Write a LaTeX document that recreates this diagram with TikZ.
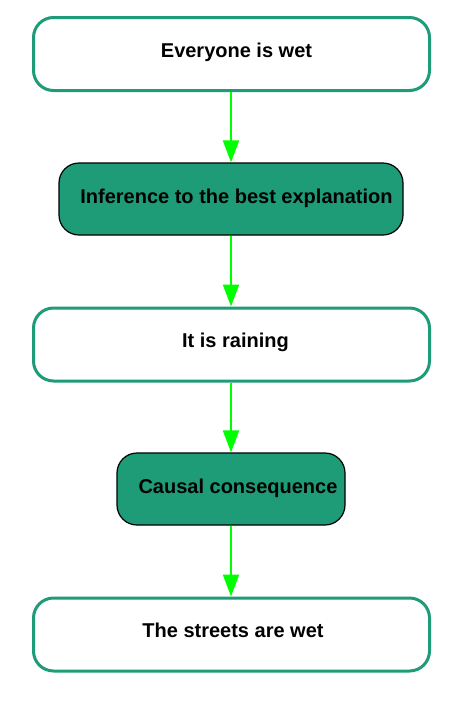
\documentclass[tikz,border=0pt]{standalone}
\usepackage{fontspec}
\setmainfont{Liberation Sans}
\usetikzlibrary{arrows.meta}
\definecolor{tealg}{HTML}{1E9B77}
\definecolor{arrowg}{HTML}{00FF00}
\tikzset{
  outerbox/.style={draw=tealg, line width=2.25pt, rounded corners=15pt, fill=white, inner sep=0pt},
  innerbox/.style={draw=black, line width=0.9pt, rounded corners=15pt, fill=tealg, inner sep=0pt},
  lbl/.style={font=\bfseries\fontsize{15}{17}\selectfont, inner sep=0pt, anchor=base},
  flow/.style={draw=arrowg, line width=1.5pt, -{Triangle[length=16.5pt,width=12pt]}}
}
\begin{document}
\begin{tikzpicture}[x=0.75pt,y=-0.75pt]
\useasboundingbox (0,0) rectangle (469,715);
\node[outerbox, minimum width=297pt, minimum height=54.75pt] (b1) at (231.5,54) {};
\node[innerbox, minimum width=258pt, minimum height=54pt] (b2) at (231,199) {};
\node[outerbox, minimum width=297pt, minimum height=54.75pt] (b3) at (231.5,344.5) {};
\node[innerbox, minimum width=171pt, minimum height=54pt] (b4) at (231,489) {};
\node[outerbox, minimum width=297pt, minimum height=54.75pt] (b5) at (231.5,634.5) {};
\node[lbl] (t1) at (236.5,57.5) {Everyone is wet};
\node[lbl] (t2) at (236.5,203) {Inference to the best explanation};
\node[lbl] (t3) at (235.5,347) {It is raining};
\node[lbl] (t4) at (238,493) {Causal consequence};
\node[lbl] (t5) at (233,637) {The streets are wet};
\draw[flow] (b1.south -| 231,0) -- (b2.north);
\draw[flow] (b2.south) -- (b3.north -| 231,0);
\draw[flow] (b3.south -| 231,0) -- (b4.north);
\draw[flow] (b4.south) -- (b5.north -| 231,0);
\end{tikzpicture}
\end{document}
